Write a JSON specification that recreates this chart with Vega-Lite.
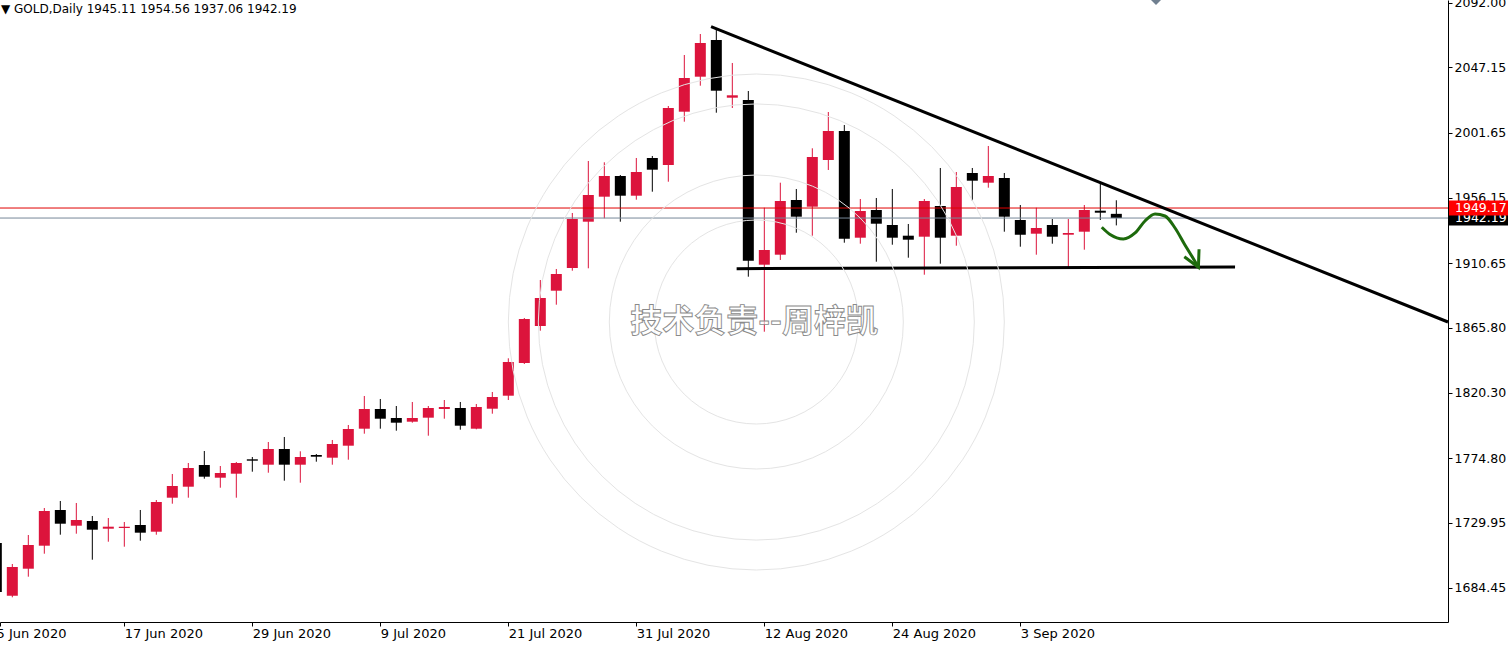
{
  "$schema": "https://vega.github.io/schema/vega-lite/v6.json",
  "width": 1448,
  "height": 622,
  "autosize": {"type": "none"},
  "padding": {"left": 0, "top": 0, "right": 60, "bottom": 23},
  "background": "#ffffff",
  "view": {"stroke": null},
  "title": {
    "text": "▼  GOLD,Daily  1945.11 1954.56 1937.06 1942.19",
    "anchor": "start",
    "frame": "group",
    "orient": "top",
    "offset": 0,
    "baseline": "top",
    "dy": 21,
    "dx": 1,
    "font": "DejaVu Sans",
    "fontSize": 12,
    "fontWeight": "normal",
    "color": "#000000"
  },
  "datasets": {
    "candles": [
      {"d": "2020-06-05", "i": -1, "o": 1715.80, "h": 1718.00, "l": 1671.00, "c": 1681.66},
      {"d": "2020-06-08", "i": 0, "o": 1679.08, "h": 1701.17, "l": 1677.97, "c": 1699.08},
      {"d": "2020-06-09", "i": 1, "o": 1697.89, "h": 1721.37, "l": 1692.32, "c": 1714.40},
      {"d": "2020-06-10", "i": 2, "o": 1713.92, "h": 1740.18, "l": 1708.34, "c": 1738.09},
      {"d": "2020-06-11", "i": 3, "o": 1738.79, "h": 1745.06, "l": 1721.58, "c": 1729.24},
      {"d": "2020-06-12", "i": 4, "o": 1727.85, "h": 1743.67, "l": 1722.28, "c": 1731.82},
      {"d": "2020-06-15", "i": 5, "o": 1731.12, "h": 1734.61, "l": 1704.16, "c": 1725.07},
      {"d": "2020-06-16", "i": 6, "o": 1725.76, "h": 1733.21, "l": 1716.70, "c": 1727.16},
      {"d": "2020-06-17", "i": 7, "o": 1726.25, "h": 1730.43, "l": 1713.22, "c": 1727.16},
      {"d": "2020-06-18", "i": 8, "o": 1728.34, "h": 1738.79, "l": 1717.40, "c": 1722.98},
      {"d": "2020-06-19", "i": 9, "o": 1723.67, "h": 1745.75, "l": 1721.58, "c": 1744.36},
      {"d": "2020-06-22", "i": 10, "o": 1747.36, "h": 1763.87, "l": 1743.18, "c": 1755.51},
      {"d": "2020-06-23", "i": 11, "o": 1755.02, "h": 1771.53, "l": 1747.36, "c": 1768.05},
      {"d": "2020-06-24", "i": 12, "o": 1770.14, "h": 1779.89, "l": 1760.60, "c": 1761.99},
      {"d": "2020-06-25", "i": 13, "o": 1761.29, "h": 1769.44, "l": 1754.32, "c": 1764.57},
      {"d": "2020-06-26", "i": 14, "o": 1764.08, "h": 1772.23, "l": 1747.36, "c": 1771.53},
      {"d": "2020-06-29", "i": 15, "o": 1774.11, "h": 1775.71, "l": 1765.47, "c": 1773.14},
      {"d": "2020-06-30", "i": 16, "o": 1770.35, "h": 1786.16, "l": 1764.77, "c": 1781.29},
      {"d": "2020-07-01", "i": 17, "o": 1781.29, "h": 1789.65, "l": 1759.20, "c": 1770.35},
      {"d": "2020-07-02", "i": 18, "o": 1770.35, "h": 1779.68, "l": 1757.81, "c": 1775.71},
      {"d": "2020-07-03", "i": 19, "o": 1777.11, "h": 1777.80, "l": 1772.44, "c": 1775.92},
      {"d": "2020-07-06", "i": 20, "o": 1775.23, "h": 1787.56, "l": 1770.35, "c": 1784.77},
      {"d": "2020-07-07", "i": 21, "o": 1783.59, "h": 1798.01, "l": 1773.83, "c": 1795.22},
      {"d": "2020-07-08", "i": 22, "o": 1795.43, "h": 1818.21, "l": 1791.95, "c": 1809.15},
      {"d": "2020-07-09", "i": 23, "o": 1809.15, "h": 1816.12, "l": 1795.43, "c": 1802.39},
      {"d": "2020-07-10", "i": 24, "o": 1802.88, "h": 1811.24, "l": 1794.04, "c": 1799.61},
      {"d": "2020-07-13", "i": 25, "o": 1800.30, "h": 1814.03, "l": 1799.61, "c": 1802.88},
      {"d": "2020-07-14", "i": 26, "o": 1803.10, "h": 1811.24, "l": 1790.55, "c": 1809.85},
      {"d": "2020-07-15", "i": 27, "o": 1809.15, "h": 1815.42, "l": 1802.39, "c": 1810.55},
      {"d": "2020-07-16", "i": 28, "o": 1809.85, "h": 1814.03, "l": 1794.73, "c": 1797.52},
      {"d": "2020-07-17", "i": 29, "o": 1795.43, "h": 1812.64, "l": 1795.00, "c": 1810.55},
      {"d": "2020-07-20", "i": 30, "o": 1809.36, "h": 1821.00, "l": 1805.88, "c": 1817.51},
      {"d": "2020-07-21", "i": 31, "o": 1818.42, "h": 1844.47, "l": 1815.42, "c": 1841.90},
      {"d": "2020-07-22", "i": 32, "o": 1841.20, "h": 1872.55, "l": 1840.50, "c": 1871.85},
      {"d": "2020-07-23", "i": 33, "o": 1866.98, "h": 1899.02, "l": 1863.70, "c": 1886.48},
      {"d": "2020-07-24", "i": 34, "o": 1891.57, "h": 1906.69, "l": 1881.82, "c": 1903.20},
      {"d": "2020-07-27", "i": 35, "o": 1907.38, "h": 1945.70, "l": 1905.50, "c": 1941.52},
      {"d": "2020-07-28", "i": 36, "o": 1939.64, "h": 1981.93, "l": 1907.17, "c": 1958.24},
      {"d": "2020-07-29", "i": 37, "o": 1957.06, "h": 1981.02, "l": 1942.01, "c": 1971.48},
      {"d": "2020-07-30", "i": 38, "o": 1971.48, "h": 1972.17, "l": 1939.64, "c": 1957.75},
      {"d": "2020-07-31", "i": 39, "o": 1957.75, "h": 1984.02, "l": 1954.97, "c": 1974.26},
      {"d": "2020-08-03", "i": 40, "o": 1984.02, "h": 1985.41, "l": 1960.54, "c": 1975.87},
      {"d": "2020-08-04", "i": 41, "o": 1979.14, "h": 2020.24, "l": 1967.50, "c": 2018.85},
      {"d": "2020-08-05", "i": 42, "o": 2016.27, "h": 2055.77, "l": 2009.31, "c": 2039.75},
      {"d": "2020-08-06", "i": 43, "o": 2040.66, "h": 2070.40, "l": 2034.39, "c": 2064.13},
      {"d": "2020-08-07", "i": 44, "o": 2066.22, "h": 2073.19, "l": 2015.58, "c": 2030.90},
      {"d": "2020-08-10", "i": 45, "o": 2026.03, "h": 2050.20, "l": 2018.85, "c": 2027.70},
      {"d": "2020-08-11", "i": 46, "o": 2024.42, "h": 2030.69, "l": 1901.32, "c": 1912.47},
      {"d": "2020-08-12", "i": 47, "o": 1909.68, "h": 1949.39, "l": 1863.00, "c": 1919.92},
      {"d": "2020-08-13", "i": 48, "o": 1916.65, "h": 1966.81, "l": 1912.96, "c": 1954.06},
      {"d": "2020-08-14", "i": 49, "o": 1954.76, "h": 1962.42, "l": 1931.97, "c": 1943.12},
      {"d": "2020-08-17", "i": 50, "o": 1950.09, "h": 1990.77, "l": 1929.89, "c": 1984.71},
      {"d": "2020-08-18", "i": 51, "o": 1982.62, "h": 2016.06, "l": 1975.66, "c": 2002.83},
      {"d": "2020-08-19", "i": 52, "o": 2002.83, "h": 2007.01, "l": 1925.01, "c": 1927.79},
      {"d": "2020-08-20", "i": 53, "o": 1928.49, "h": 1955.45, "l": 1924.31, "c": 1947.09},
      {"d": "2020-08-21", "i": 54, "o": 1947.79, "h": 1956.15, "l": 1911.77, "c": 1938.24},
      {"d": "2020-08-24", "i": 55, "o": 1937.34, "h": 1962.42, "l": 1923.61, "c": 1928.49},
      {"d": "2020-08-25", "i": 56, "o": 1929.89, "h": 1938.04, "l": 1914.56, "c": 1927.10},
      {"d": "2020-08-26", "i": 57, "o": 1929.19, "h": 1955.45, "l": 1902.71, "c": 1954.06},
      {"d": "2020-08-27", "i": 58, "o": 1950.58, "h": 1977.05, "l": 1910.38, "c": 1928.49},
      {"d": "2020-08-28", "i": 59, "o": 1929.89, "h": 1974.26, "l": 1922.92, "c": 1963.81},
      {"d": "2020-08-31", "i": 60, "o": 1973.57, "h": 1977.05, "l": 1954.27, "c": 1968.20},
      {"d": "2020-09-01", "i": 61, "o": 1966.81, "h": 1992.38, "l": 1963.33, "c": 1971.48},
      {"d": "2020-09-02", "i": 62, "o": 1970.08, "h": 1973.57, "l": 1932.67, "c": 1943.12},
      {"d": "2020-09-03", "i": 63, "o": 1940.82, "h": 1951.27, "l": 1922.22, "c": 1930.58},
      {"d": "2020-09-04", "i": 64, "o": 1931.28, "h": 1949.39, "l": 1916.65, "c": 1935.25},
      {"d": "2020-09-07", "i": 65, "o": 1937.34, "h": 1941.52, "l": 1924.31, "c": 1929.19},
      {"d": "2020-09-08", "i": 66, "o": 1930.58, "h": 1941.52, "l": 1907.59, "c": 1931.77},
      {"d": "2020-09-09", "i": 67, "o": 1932.67, "h": 1951.27, "l": 1920.13, "c": 1947.79},
      {"d": "2020-09-10", "i": 68, "o": 1947.30, "h": 1965.90, "l": 1940.82, "c": 1945.91},
      {"d": "2020-09-11", "i": 69, "o": 1945.11, "h": 1954.56, "l": 1937.06, "c": 1942.19}
    ],
    "levels": [
      {"name": "last", "price": 1942.19, "label": "1942.19"},
      {"name": "ask", "price": 1949.17, "label": "1949.17"}
    ],
    "trend": [
      {"i": 43.67, "p": 2075.49},
      {"i": 89.73, "p": 1869.76}
    ],
    "support": [
      {"i": 45.27, "p": 1906.90},
      {"i": 76.42, "p": 1908.08}
    ],
    "curve": [
      {"i": 68.09, "p": 1935.74},
      {"i": 68.61, "p": 1930.72},
      {"i": 69.44, "p": 1927.59},
      {"i": 70.17, "p": 1931.77},
      {"i": 70.79, "p": 1940.13},
      {"i": 71.42, "p": 1945.00},
      {"i": 72.04, "p": 1943.61},
      {"i": 72.67, "p": 1935.25},
      {"i": 73.29, "p": 1923.41},
      {"i": 73.79, "p": 1914.35},
      {"i": 74.13, "p": 1907.87}
    ],
    "arrowhead": [
      {"n": 1, "i": 73.25, "p": 1915.26},
      {"n": 2, "i": 74.13, "p": 1907.87},
      {"n": 3, "i": 74.17, "p": 1920.41}
    ],
    "center": [
      {"i": 46.5, "p": 1869.76}
    ],
    "watermark": [
      {"i": 46.36, "p": 1869.76, "t": "技术负责--周梓凯"}
    ],
    "marker": [
      {"i": 71.48, "p": 2094.09}
    ]
  },
  "layer": [
    {
      "data": {"name": "candles"},
      "layer": [
        {
          "mark": {"type": "rule", "strokeWidth": 1},
          "encoding": {
            "x": {
              "field": "i", "type": "quantitative",
              "scale": {"domain": [-0.77, 89.73], "nice": false, "zero": false, "padding": 0},
              "axis": {
                "title": null,
                "orient": "bottom",
                "values": [-0.77, 7, 15, 23, 31, 39, 47, 55, 63],
                "labelExpr": "datum.value < 0 ? '5 Jun 2020' : ['5 Jun 2020','17 Jun 2020','29 Jun 2020','9 Jul 2020','21 Jul 2020','31 Jul 2020','12 Aug 2020','24 Aug 2020','3 Sep 2020'][(datum.value+1)/8]",
                "labelOffset": {"condition": {"test": "datum.value < 0", "value": -4}, "value": 0},
                "grid": false,
                "domainColor": "#000000",
                "domainWidth": 1,
                "tickColor": "#000000",
                "tickSize": 4,
                "labelAlign": "left",
                "labelBaseline": "top",
                "labelPadding": 1,
                "labelFont": "DejaVu Sans",
                "labelFontSize": 13,
                "labelColor": "#000000",
                "labelFlush": false,
                "labelOverlap": false
              }
            },
            "y": {
              "field": "l", "type": "quantitative",
              "scale": {"domain": [1660.76, 2094.09], "nice": false, "zero": false, "padding": 0},
              "axis": {
                "title": null,
                "orient": "right",
                "values": [2092, 2047.15, 2001.65, 1956.15, 1910.65, 1865.8, 1820.3, 1774.8, 1729.95, 1684.45],
                "format": ".2f",
                "grid": false,
                "domainColor": "#000000",
                "domainWidth": 1,
                "tickColor": "#000000",
                "tickSize": 4,
                "labelAlign": "left",
                "labelBaseline": "middle",
                "labelPadding": 2,
                "labelFont": "DejaVu Sans",
                "labelFontSize": 12.5,
                "labelColor": "#000000",
                "labelFlush": false,
                "labelOverlap": false
              }
            },
            "y2": {"field": "h"},
            "color": {"condition": {"test": "datum.c >= datum.o", "value": "#dc143c"}, "value": "#000000"}
          }
        },
        {
          "mark": {"type": "bar", "size": 11},
          "encoding": {
            "x": {"field": "i", "type": "quantitative"},
            "y": {"field": "o", "type": "quantitative"},
            "y2": {"field": "c"},
            "color": {"condition": {"test": "datum.c >= datum.o", "value": "#dc143c"}, "value": "#000000"}
          }
        }
      ]
    },
    {
      "data": {"name": "levels"},
      "mark": {"type": "rule", "strokeWidth": 1},
      "encoding": {
        "y": {"field": "price", "type": "quantitative"},
        "color": {"condition": {"test": "datum.name == 'ask'", "value": "#e00000"}, "value": "#778899"}
      }
    },
    {
      "data": {"name": "trend"},
      "mark": {"type": "line", "color": "#000000", "strokeWidth": 3},
      "encoding": {
        "x": {"field": "i", "type": "quantitative"},
        "y": {"field": "p", "type": "quantitative"}
      }
    },
    {
      "data": {"name": "support"},
      "mark": {"type": "line", "color": "#000000", "strokeWidth": 3},
      "encoding": {
        "x": {"field": "i", "type": "quantitative"},
        "y": {"field": "p", "type": "quantitative"}
      }
    },
    {
      "data": {"name": "curve"},
      "mark": {"type": "line", "color": "#1d6a0c", "strokeWidth": 3, "interpolate": "monotone"},
      "encoding": {
        "x": {"field": "i", "type": "quantitative"},
        "y": {"field": "p", "type": "quantitative"}
      }
    },
    {
      "data": {"name": "arrowhead"},
      "mark": {"type": "line", "color": "#1d6a0c", "strokeWidth": 3},
      "encoding": {
        "x": {"field": "i", "type": "quantitative"},
        "y": {"field": "p", "type": "quantitative"},
        "order": {"field": "n", "type": "quantitative"}
      }
    },
    {
      "data": {"name": "center"},
      "mark": {"type": "point", "shape": "circle", "filled": false, "color": "#e4e4e4", "strokeWidth": 1, "opacity": 1, "size": 246016},
      "encoding": {
        "x": {"field": "i", "type": "quantitative"},
        "y": {"field": "p", "type": "quantitative"}
      }
    },
    {
      "data": {"name": "center"},
      "mark": {"type": "point", "shape": "circle", "filled": false, "color": "#e4e4e4", "strokeWidth": 1, "opacity": 1, "size": 190096},
      "encoding": {
        "x": {"field": "i", "type": "quantitative"},
        "y": {"field": "p", "type": "quantitative"}
      }
    },
    {
      "data": {"name": "center"},
      "mark": {"type": "point", "shape": "circle", "filled": false, "color": "#e4e4e4", "strokeWidth": 1, "opacity": 1, "size": 86436},
      "encoding": {
        "x": {"field": "i", "type": "quantitative"},
        "y": {"field": "p", "type": "quantitative"}
      }
    },
    {
      "data": {"name": "center"},
      "mark": {"type": "point", "shape": "circle", "filled": false, "color": "#e4e4e4", "strokeWidth": 1, "opacity": 1, "size": 41616},
      "encoding": {
        "x": {"field": "i", "type": "quantitative"},
        "y": {"field": "p", "type": "quantitative"}
      }
    },
    {
      "data": {"name": "watermark"},
      "mark": {"type": "text", "font": "Noto Sans CJK SC", "fontSize": 32, "fontWeight": "bold", "color": "#ffffff", "fillOpacity": 0.6, "stroke": "#8a8a8a", "strokeWidth": 0.9, "align": "center", "baseline": "middle"},
      "encoding": {
        "x": {"field": "i", "type": "quantitative"},
        "y": {"field": "p", "type": "quantitative"},
        "text": {"field": "t"}
      }
    },
    {
      "data": {"name": "marker"},
      "mark": {"type": "point", "shape": "diamond", "filled": true, "color": "#708090", "size": 100, "opacity": 1},
      "encoding": {
        "x": {"field": "i", "type": "quantitative"},
        "y": {"field": "p", "type": "quantitative"}
      }
    },
    {
      "data": {"name": "levels"},
      "transform": [{"filter": "datum.name == 'last'"}],
      "mark": {"type": "rect", "color": "#000000", "xOffset": 1, "x2Offset": 60, "yOffset": -7.5, "y2Offset": 7.5},
      "encoding": {
        "x": {"value": "width"},
        "x2": {"value": "width"},
        "y": {"field": "price", "type": "quantitative"},
        "y2": {"field": "price"}
      }
    },
    {
      "data": {"name": "levels"},
      "transform": [{"filter": "datum.name == 'last'"}],
      "mark": {"type": "text", "color": "#ffffff", "font": "DejaVu Sans", "fontSize": 12.5, "align": "left", "baseline": "middle", "dx": 7},
      "encoding": {
        "x": {"value": "width"},
        "y": {"field": "price", "type": "quantitative"},
        "text": {"field": "label"}
      }
    },
    {
      "data": {"name": "levels"},
      "transform": [{"filter": "datum.name == 'ask'"}],
      "mark": {"type": "rect", "color": "#ff0000", "xOffset": 1, "x2Offset": 60, "yOffset": -7.5, "y2Offset": 7.5},
      "encoding": {
        "x": {"value": "width"},
        "x2": {"value": "width"},
        "y": {"field": "price", "type": "quantitative"},
        "y2": {"field": "price"}
      }
    },
    {
      "data": {"name": "levels"},
      "transform": [{"filter": "datum.name == 'ask'"}],
      "mark": {"type": "text", "color": "#ffffff", "font": "DejaVu Sans", "fontSize": 12.5, "align": "left", "baseline": "middle", "dx": 7},
      "encoding": {
        "x": {"value": "width"},
        "y": {"field": "price", "type": "quantitative"},
        "text": {"field": "label"}
      }
    }
  ]
}
